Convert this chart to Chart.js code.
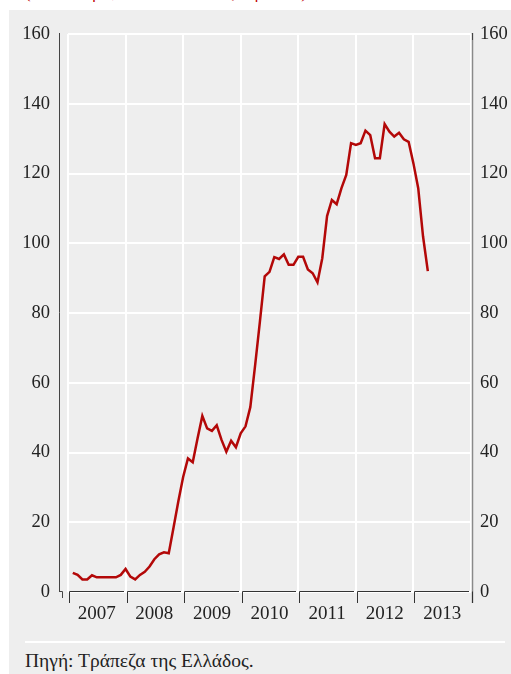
<!DOCTYPE html>
<html>
<head>
<meta charset="utf-8">
<script src="https://cdn.jsdelivr.net/npm/chart.js@4"></script>
<style>
  body { margin: 0; background: #fff; width: 511px; height: 674px; overflow: hidden; position: relative; }
  #panel { position: absolute; left: 9px; top: 10px; width: 502px; height: 664px; background: #eeeeee; }
  #chart { position: absolute; left: 0; top: 0; }
  #subtitle { position: absolute; left: 25px; top: -16px; font: 17px/17px "Liberation Serif", serif; color: #c00000; white-space: nowrap; }
  #rule { position: absolute; left: 25px; top: 641px; width: 480px; height: 2px; background: #fff; }
  #source { position: absolute; left: 25px; top: 650px; font: 19.5px "Liberation Serif", serif; color: #222; }
</style>
</head>
<body>
<div id="panel"></div>
<div id="subtitle">(δισεκ. ευρώ, υπόλοιπα τέλους περιόδου)</div>
<canvas id="chart" width="511" height="640"></canvas>
<div id="rule"></div>
<div id="source">Πηγή: Τράπεζα της Ελλάδος.</div>
<script>
// monthly values, end of month (Jan 2007 - Mar 2013)
const years = ['2007', '2008', '2009', '2010', '2011', '2012', '2013'];
const v2007 = [5.5, 4.9, 3.6, 3.6, 4.8, 4.2, 4.2, 4.2, 4.2, 4.2, 4.9, 6.6];
const v2008 = [4.4, 3.6, 4.9, 5.8, 7.3, 9.4, 10.8, 11.4, 11.1, 18.5, 26, 33];
const v2009 = [38.3, 37.2, 44, 50.5, 46.9, 46.2, 47.8, 43.6, 40.2, 43.4, 41.5, 45.5];
const v2010 = [47.5, 53, 65, 77.5, 90.5, 91.8, 96, 95.5, 96.8, 93.8, 93.8, 96.1];
const v2011 = [96.1, 92.5, 91.4, 88.8, 95.7, 107.8, 112.4, 111.2, 115.8, 119.6, 128.7, 128.2];
const v2012 = [128.7, 132.3, 131, 124.4, 124.4, 134.2, 132, 130.6, 131.7, 129.8, 129.1, 122.9];
const v2013 = [115.8, 102, 92];
const yTicks = [0, 20, 40, 60, 80, 100, 120, 140, 160];

const values = [].concat(v2007, v2008, v2009, v2010, v2011, v2012, v2013);
const points = values.map((v, i) => ({ x: i + 1, y: v }));

const serif = '"Liberation Serif", "Times New Roman", serif';
const textColor = '#222';

// axis decorations: left axis line, right axis line, bracketed year axis
const axesDeco = {
    id: 'axesDeco',
    afterDraw(chart) {
        const c = chart.ctx;
        const a = chart.chartArea;
        const xs = chart.scales.x;
        c.save();
        // left axis
        c.strokeStyle = '#444';
        c.lineWidth = 1;
        c.beginPath();
        c.moveTo(59.5, a.top - 1);
        c.lineTo(59.5, a.bottom);
        c.moveTo(59.5, a.bottom - 0.5);
        c.lineTo(62.5, a.bottom - 0.5);
        c.lineTo(62.5, a.bottom + 6);
        c.stroke();
        // right axis
        c.strokeStyle = '#8a8a8a';
        c.lineWidth = 1.5;
        c.beginPath();
        c.moveTo(472.5, a.top - 1);
        c.lineTo(472.5, a.bottom + 11);
        c.stroke();
        c.strokeStyle = '#444';
        c.lineWidth = 1;
        c.beginPath();
        c.moveTo(472.5, a.top - 1);
        c.lineTo(472.5, a.top + 6);
        c.stroke();
        // year brackets
        c.strokeStyle = '#333';
        c.lineWidth = 1;
        c.beginPath();
        for (let i = 0; i < years.length; i++) {
            const x0 = Math.round(xs.getPixelForValue(i * 12)) + 1.5;
            const x1 = Math.round(xs.getPixelForValue((i + 1) * 12)) - 2;
            c.moveTo(x0, a.bottom + 11);
            c.lineTo(x0, a.bottom - 0.5);
            c.lineTo(x1, a.bottom - 0.5);
        }
        const xe = Math.round(xs.getPixelForValue(84)) + 1.5;
        c.moveTo(xe, a.bottom - 0.5);
        c.lineTo(xe, a.bottom + 11);
        c.stroke();
        c.restore();
    }
};

new Chart(document.getElementById('chart'), {
    type: 'line',
    data: {
        datasets: [{
            data: points,
            borderColor: '#b30808',
            borderWidth: 2.5,
            pointRadius: 0,
            tension: 0,
            fill: false
        }]
    },
    options: {
        responsive: false,
        animation: false,
        events: [],
        layout: { padding: { top: 34, left: 0, right: 0, bottom: 0 } },
        plugins: { legend: { display: false }, tooltip: { enabled: false } },
        scales: {
            x: {
                type: 'linear',
                position: 'bottom',
                min: 0,
                max: 84,
                ticks: { stepSize: 12, display: false },
                grid: { color: '#ffffff', lineWidth: 2, drawTicks: false },
                border: { display: false },
                afterFit: s => { s.height = 0; }
            },
            x2: {
                type: 'linear',
                position: 'bottom',
                min: 0,
                max: 84,
                afterBuildTicks: s => { s.ticks = years.map((y, i) => ({ value: i * 12 + 6 })); },
                ticks: {
                    autoSkip: false,
                    maxRotation: 0,
                    padding: 11,
                    color: textColor,
                    font: { family: serif, size: 19 },
                    callback: v => years[Math.round((v - 6) / 12)]
                },
                grid: { display: false, drawTicks: false },
                border: { display: false },
                afterFit: s => { s.height = 48; }
            },
            y: {
                position: 'left',
                min: 0,
                max: 160,
                afterBuildTicks: s => { s.ticks = yTicks.map(v => ({ value: v })); },
                ticks: { padding: 18, color: textColor, font: { family: serif, size: 18.5 } },
                grid: { color: '#ffffff', lineWidth: 2, drawTicks: false },
                border: { display: false },
                afterFit: s => { s.width = 68; }
            },
            y2: {
                position: 'right',
                min: 0,
                max: 160,
                afterBuildTicks: s => { s.ticks = yTicks.map(v => ({ value: v })); },
                ticks: { padding: 9, color: textColor, font: { family: serif, size: 18.5 } },
                grid: { display: false, drawTicks: false },
                border: { display: false },
                afterFit: s => { s.width = 40; }
            }
        }
    },
    plugins: [axesDeco]
});
</script>
</body>
</html>
